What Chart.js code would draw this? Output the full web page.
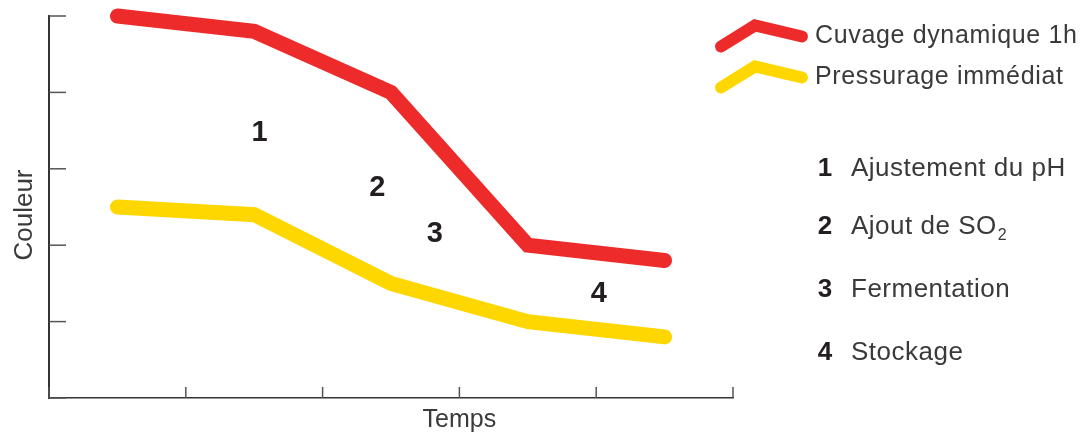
<!DOCTYPE html>
<html>
<head>
<meta charset="utf-8">
<script src="https://cdn.jsdelivr.net/npm/chart.js@4.4.1/dist/chart.umd.min.js"></script>
<style>
  html, body { margin: 0; padding: 0; background: #fff; }
  #wrap { width: 1090px; height: 433px; }
</style>
</head>
<body>
<div id="wrap"><canvas id="chart" width="1090" height="433"></canvas></div>
<script>
// time positions (middle of each step) and colour values
const timeSteps = [0.5, 1.5, 2.5, 3.5, 4.5];
const cuvage = [5.0, 4.8, 4.0, 2.0, 1.8];
const pressurage = [2.5, 2.4, 1.5, 1.0, 0.8];
const seriesNames = ['Cuvage dynamique 1h', 'Pressurage immédiat'];
const seriesColors = ['#ee2b2b', '#ffd700'];

// numbered steps on the chart
const stepNums = ['1', '2', '3', '4'];
const stepX = [1.54, 2.4, 2.82, 4.02];
const stepY = [3.48, 2.76, 2.16, 1.37];
const stepNames = ['Ajustement du pH', 'Ajout de SO', 'Fermentation', 'Stockage'];

const tickVals = [0, 1, 2, 3, 4, 5];

const textFont = '"Liberation Sans", Arial, sans-serif';

function toPoints(ys) {
    return ys.map((y, i) => ({ x: timeSteps[i], y: y }));
}

const decorPlugin = {
    id: 'decor',
    afterDraw(chart) {
        const ctx = chart.ctx;
        const xs = chart.scales.x, ys = chart.scales.y;
        const area = chart.chartArea;
        ctx.save();

        // inward tick marks
        ctx.strokeStyle = '#555';
        ctx.lineWidth = 1.5;
        tickVals.forEach(v => {
            const py = ys.getPixelForValue(v);
            ctx.beginPath();
            ctx.moveTo(area.left, py);
            ctx.lineTo(area.left + 17, py);
            ctx.stroke();
            const px = xs.getPixelForValue(v);
            ctx.beginPath();
            ctx.moveTo(px, area.bottom);
            ctx.lineTo(px, area.bottom - 11);
            ctx.stroke();
        });

        // axis titles
        ctx.fillStyle = '#3a3a3a';
        ctx.font = '25px ' + textFont;
        ctx.textAlign = 'center';
        ctx.textBaseline = 'alphabetic';
        ctx.fillText('Temps', xs.getPixelForValue(3), 427);
        ctx.save();
        ctx.translate(31.5, 215);
        ctx.rotate(-Math.PI / 2);
        ctx.font = '26px ' + textFont;
        ctx.fillText('Couleur', 0, 0);
        ctx.restore();

        // step numbers in the plot
        ctx.fillStyle = '#231f20';
        ctx.font = 'bold 29px ' + textFont;
        ctx.textBaseline = 'middle';
        stepNums.forEach((n, i) => {
            ctx.fillText(n, xs.getPixelForValue(stepX[i]), ys.getPixelForValue(stepY[i]) + 1);
        });

        // legend with zigzag icons
        const legendBase = [42.5, 83.5];
        ctx.lineCap = 'round';
        ctx.lineJoin = 'miter';
        ctx.lineWidth = 12;
        seriesNames.forEach((name, i) => {
            const b = legendBase[i];
            ctx.strokeStyle = seriesColors[i];
            ctx.beginPath();
            ctx.moveTo(721, b + 4);
            ctx.lineTo(755, b - 17);
            ctx.lineTo(802, b - 6);
            ctx.stroke();
            ctx.fillStyle = '#3a3a3a';
            ctx.font = '25px ' + textFont;
            ctx.letterSpacing = '0.65px';
            ctx.textAlign = 'left';
            ctx.textBaseline = 'alphabetic';
            ctx.fillText(name, 815, b);
        });

        // step key
        const keyBase = [176, 234, 297, 360];
        stepNames.forEach((name, i) => {
            ctx.letterSpacing = '0px';
            ctx.fillStyle = '#231f20';
            ctx.font = 'bold 26px ' + textFont;
            ctx.textAlign = 'center';
            ctx.fillText(stepNums[i], 825, keyBase[i]);
            ctx.fillStyle = '#3a3a3a';
            ctx.font = '26px ' + textFont;
            ctx.letterSpacing = '0.5px';
            ctx.textAlign = 'left';
            ctx.fillText(name, 851, keyBase[i]);
            if (i === 1) {
                const w = ctx.measureText(name).width;
                ctx.font = '16px ' + textFont;
                ctx.fillText('2', 851 + w + 1, keyBase[i] + 6);
            }
        });

        ctx.restore();
    }
};

new Chart(document.getElementById('chart'), {
    type: 'line',
    data: {
        datasets: [
            {
                label: seriesNames[0],
                data: toPoints(cuvage),
                borderColor: seriesColors[0],
                borderWidth: 15,
                borderCapStyle: 'round',
                borderJoinStyle: 'miter',
                pointRadius: 0,
                tension: 0,
                clip: false
            },
            {
                label: seriesNames[1],
                data: toPoints(pressurage),
                borderColor: seriesColors[1],
                borderWidth: 15,
                borderCapStyle: 'round',
                borderJoinStyle: 'miter',
                pointRadius: 0,
                tension: 0,
                clip: false
            }
        ]
    },
    plugins: [decorPlugin],
    options: {
        responsive: false,
        animation: false,
        layout: { padding: { left: 49, right: 357, top: 16, bottom: 35 } },
        plugins: {
            legend: { display: false },
            tooltip: { enabled: false }
        },
        scales: {
            x: {
                type: 'linear',
                min: 0,
                max: 5,
                ticks: { display: false },
                grid: { display: false, drawTicks: false },
                border: { display: true, color: '#333', width: 1.5 }
            },
            y: {
                type: 'linear',
                min: 0,
                max: 5,
                ticks: { display: false },
                grid: { display: false, drawTicks: false },
                border: { display: true, color: '#333', width: 2 }
            }
        }
    }
});
</script>
</body>
</html>
